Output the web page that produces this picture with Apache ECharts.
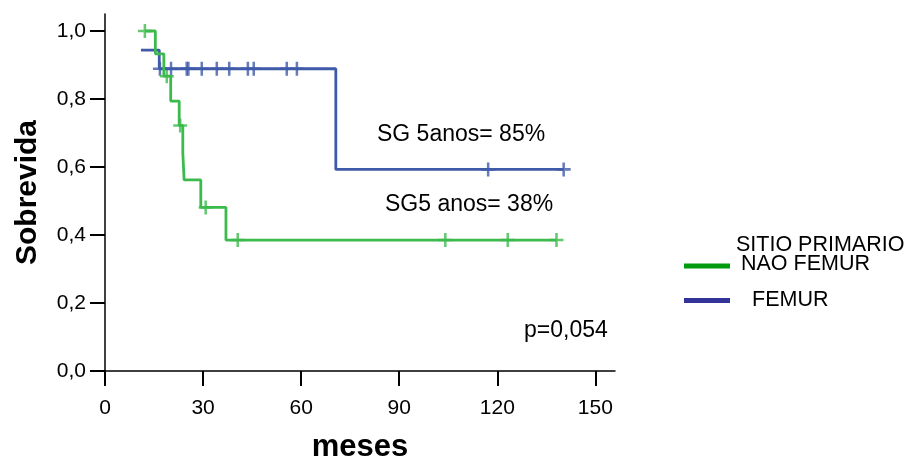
<!DOCTYPE html>
<html>
<head>
<meta charset="utf-8">
<title>Sobrevida</title>
<script src="https://cdn.jsdelivr.net/npm/echarts@6/dist/echarts.min.js"></script>
<style>
html, body { margin: 0; padding: 0; background: #fff; }
#chart { width: 905px; height: 459px; }
</style>
</head>
<body>
<div id="chart"></div>
<script>
// eixos
var xTicks = [0, 30, 60, 90, 120, 150];
var yTicks = [0, 0.2, 0.4, 0.6, 0.8, 1.0];

// NAO FEMUR: tempos (meses) e sobrevida acumulada
var naoFemurTempo = [12.2, 15.4, 18.0, 20.1, 22.7, 23.8, 24.2, 29.3, 37.0, 138.1];
var naoFemurSobrev = [1.0, 0.933, 0.867, 0.794, 0.722, 0.642, 0.562, 0.481, 0.385, 0.385];
var naoFemurCensura = [12.2, 18.9, 23.0, 30.8, 40.6, 104.1, 123.2, 138.1];

// FEMUR
var femurTempo = [11.0, 16.6, 70.6, 140.3];
var femurSobrev = [0.944, 0.889, 0.593, 0.593];
var femurCensura = [16.8, 20.2, 25.0, 25.5, 29.6, 34.2, 38.0, 43.7, 45.5, 55.6, 58.7, 117.2, 140.3];

var FONT = "'Liberation Sans', Arial, sans-serif";
var verde = "#3cba4c";
var azul = "#3f5aa9";
// marcador de censura "+"
var cruz = "path://M4.1,0h1.8v4.1h4.1v1.8h-4.1v4.1h-1.8v-4.1h-4.1v-1.8h4.1z";

function pares(t, s) {
  return t.map(function (v, i) { return [v, s[i]]; });
}
function sobrevEm(t, s, tc) {
  var val = s[0];
  for (var i = 0; i < t.length; i++) {
    if (t[i] <= tc) val = s[i];
  }
  return val;
}
function censuras(t, s, c) {
  return c.map(function (tc) { return [tc, sobrevEm(t, s, tc)]; });
}

var chart = echarts.init(document.getElementById("chart"));
var option = {
  animation: false,
  backgroundColor: "#fff",
  grid: { left: 105, right: 290, top: 14, bottom: 88, containLabel: false, outerBoundsMode: "none" },
  xAxis: {
    type: "value",
    min: 0,
    max: 156,
    name: "meses",
    nameLocation: "middle",
    nameGap: 61,
    nameTextStyle: { fontFamily: FONT, fontSize: 31, fontWeight: "bold", color: "#000" },
    splitLine: { show: false },
    axisLine: { onZero: false, lineStyle: { color: "#000", width: 1.5 } },
    axisTick: { customValues: xTicks, length: 15, lineStyle: { color: "#000", width: 2 } },
    axisLabel: {
      customValues: xTicks,
      margin: 27,
      fontFamily: FONT,
      fontSize: 21,
      color: "#000"
    }
  },
  yAxis: {
    type: "value",
    min: 0,
    max: 1.05,
    name: "Sobrevida",
    nameLocation: "middle",
    nameRotate: 90,
    nameGap: 62,
    nameTextStyle: { fontFamily: FONT, fontSize: 30, fontWeight: "bold", color: "#000" },
    splitLine: { show: false },
    axisLine: { show: true, lineStyle: { color: "#000", width: 1.5 } },
    axisTick: { show: true, customValues: yTicks, length: 15, lineStyle: { color: "#000", width: 2 } },
    axisLabel: {
      customValues: yTicks,
      margin: 19,
      fontFamily: FONT,
      fontSize: 21,
      color: "#000",
      formatter: function (v) { return v.toFixed(1).replace(".", ","); }
    }
  },
  series: [
    {
      name: "FEMUR",
      type: "line",
      step: "end",
      showSymbol: false,
      data: pares(femurTempo, femurSobrev),
      lineStyle: { color: azul, width: 2.8 },
      itemStyle: { color: azul }
    },
    {
      name: "NAO FEMUR",
      type: "line",
      step: "end",
      showSymbol: false,
      data: pares(naoFemurTempo, naoFemurSobrev),
      lineStyle: { color: verde, width: 2.8 },
      itemStyle: { color: verde }
    },
    {
      name: "FEMUR censura",
      type: "scatter",
      symbol: cruz,
      symbolSize: 14,
      data: censuras(femurTempo, femurSobrev, femurCensura),
      itemStyle: { color: azul }
    },
    {
      name: "NAO FEMUR censura",
      type: "scatter",
      symbol: cruz,
      symbolSize: 14,
      data: censuras(naoFemurTempo, naoFemurSobrev, naoFemurCensura),
      itemStyle: { color: verde }
    }
  ],
  graphic: [
    { type: "text", x: 377, y: 135, style: { text: "SG 5anos= 85%", font: "23px " + FONT, fill: "#000", verticalAlign: "middle" } },
    { type: "text", x: 385, y: 205, style: { text: "SG5 anos= 38%", font: "23px " + FONT, fill: "#000", verticalAlign: "middle" } },
    { type: "text", x: 524, y: 331, style: { text: "p=0,054", font: "23px " + FONT, fill: "#000", verticalAlign: "middle" } },
    // legenda
    { type: "text", x: 736, y: 245, style: { text: "SITIO PRIMARIO", font: "21.5px " + FONT, fill: "#000", verticalAlign: "middle" } },
    { type: "rect", shape: { x: 684, y: 263.5, width: 46, height: 5 }, style: { fill: "#009a0e" } },
    { type: "text", x: 741, y: 264, style: { text: "NAO FEMUR", font: "21.5px " + FONT, fill: "#000", verticalAlign: "middle" } },
    { type: "rect", shape: { x: 684, y: 298, width: 46, height: 5 }, style: { fill: "#333399" } },
    { type: "text", x: 752, y: 300.5, style: { text: "FEMUR", font: "21.5px " + FONT, fill: "#000", verticalAlign: "middle" } }
  ]
};
chart.setOption(option);
window.addEventListener("resize", function () { chart.resize(); });
</script>
</body>
</html>
